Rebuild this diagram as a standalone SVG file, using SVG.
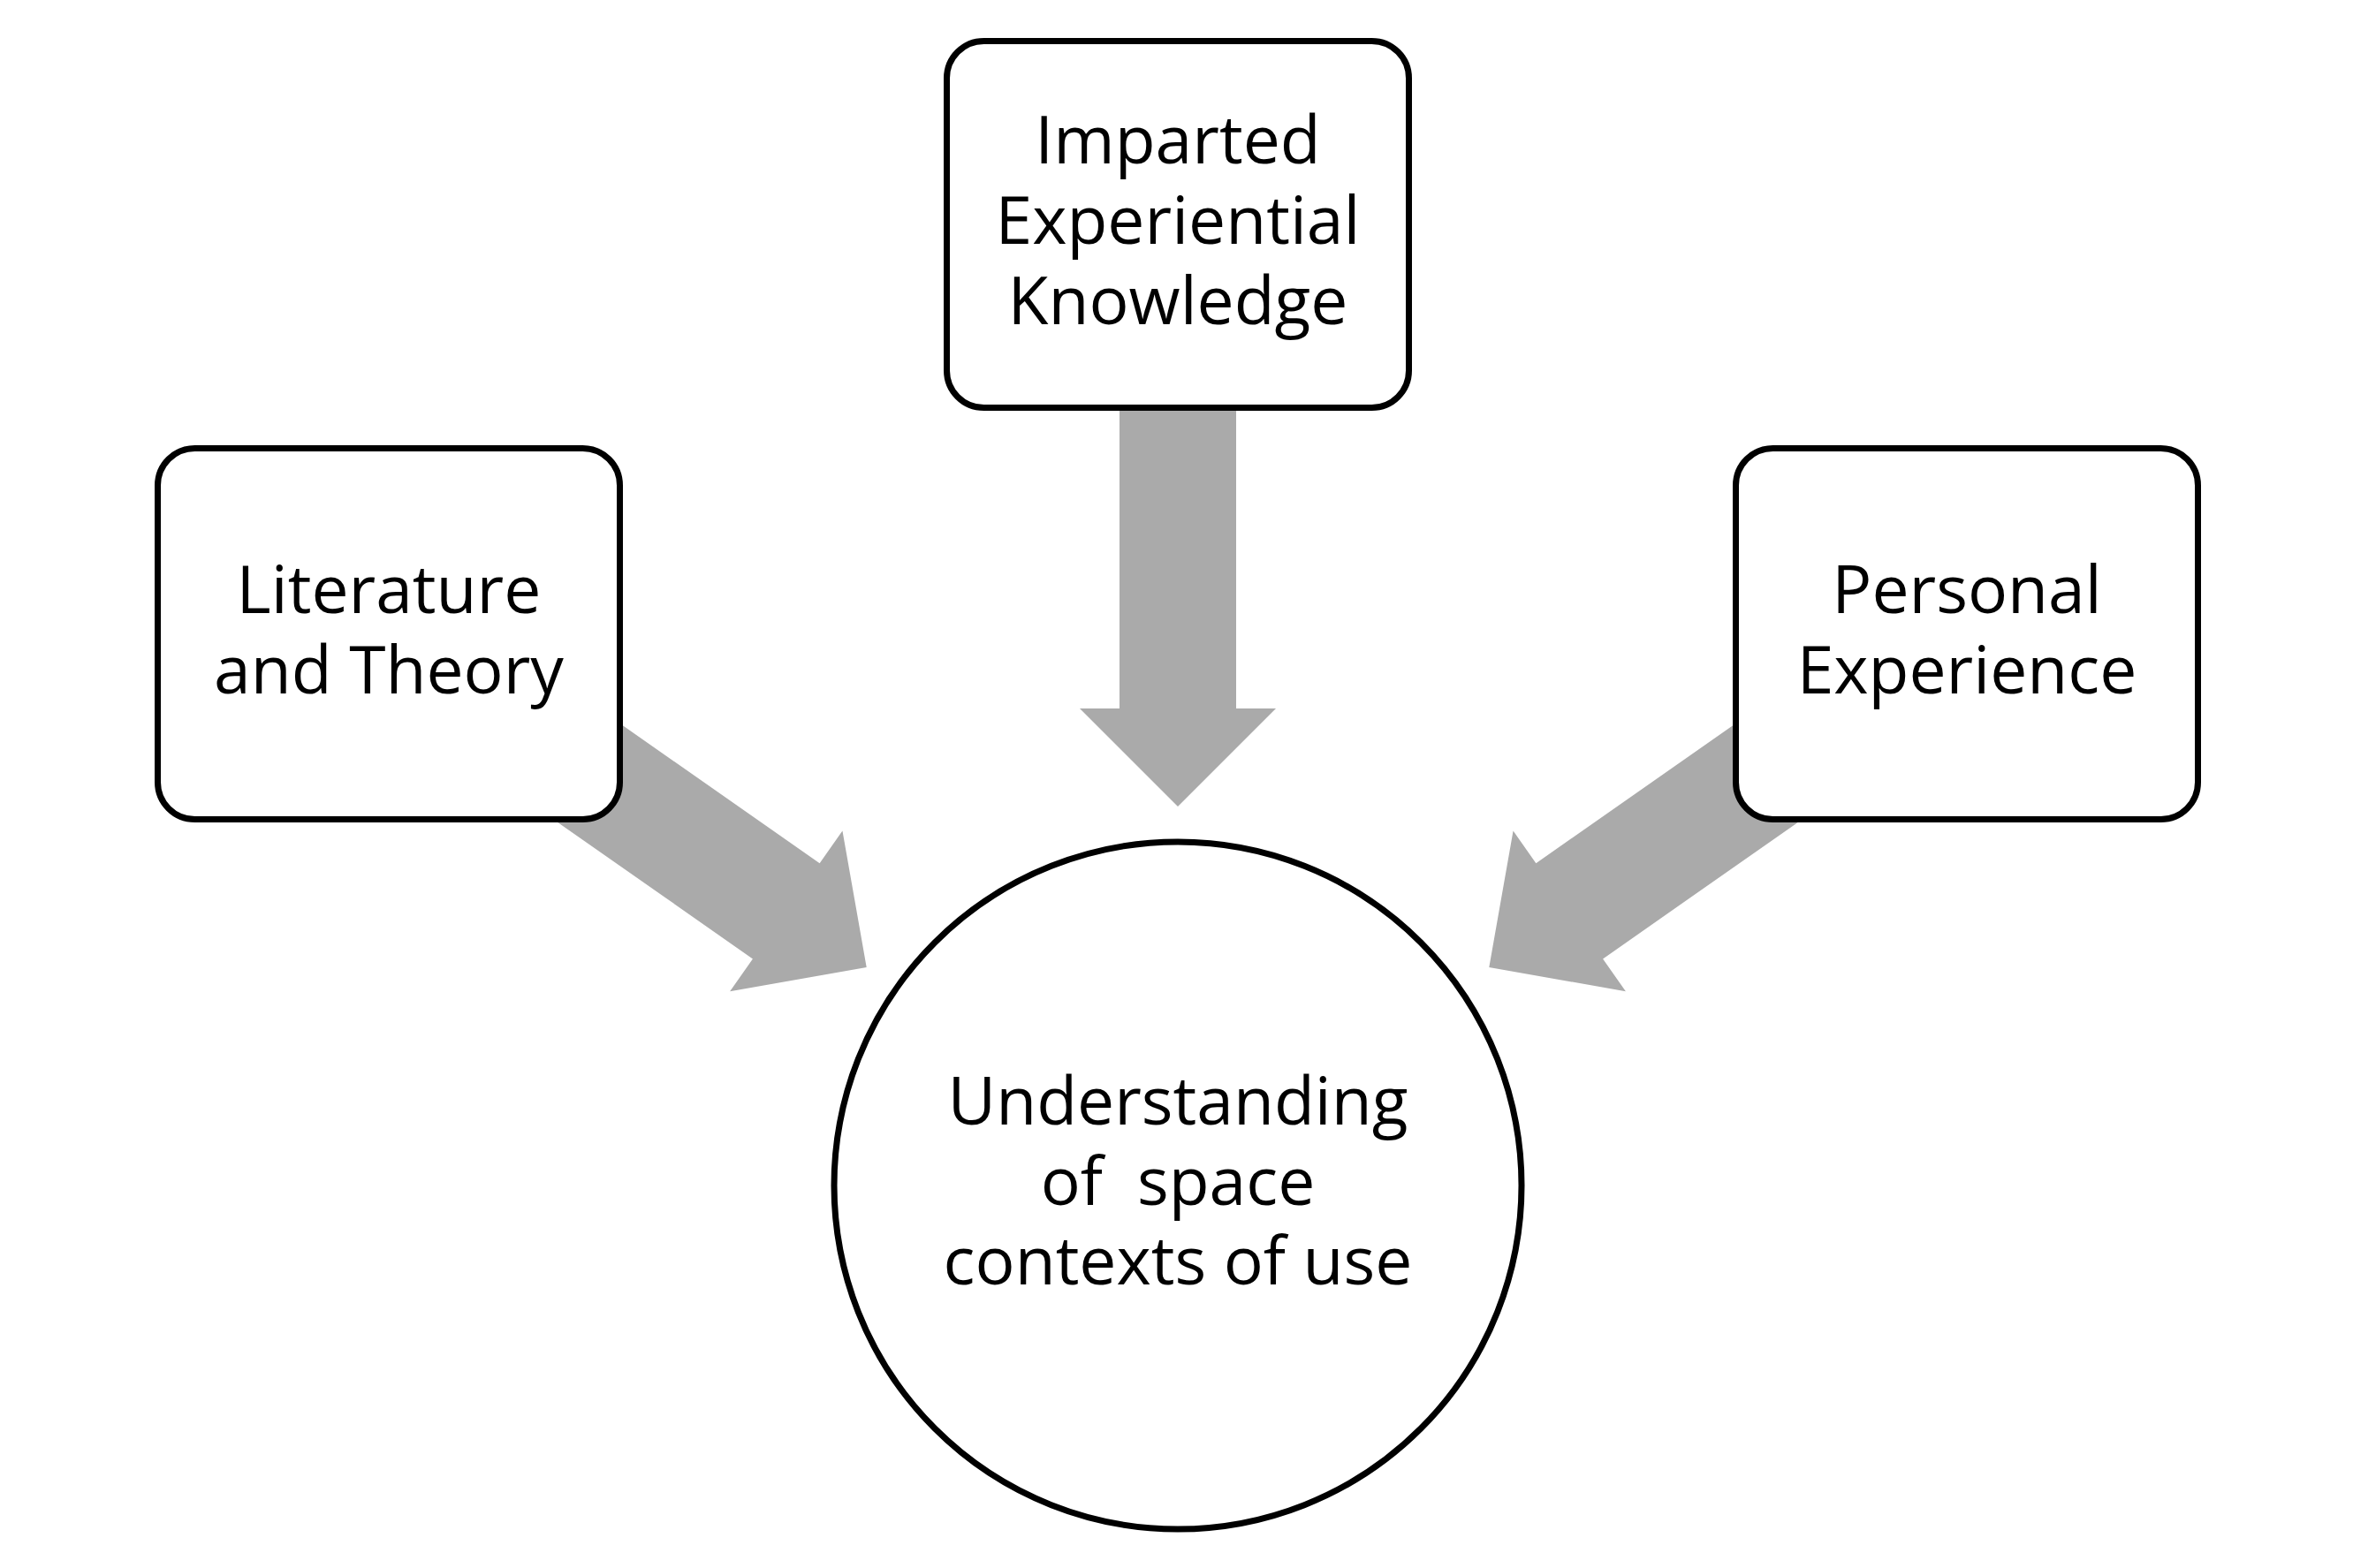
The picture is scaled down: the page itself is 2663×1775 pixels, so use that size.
<svg xmlns="http://www.w3.org/2000/svg" xmlns:xlink="http://www.w3.org/1999/xlink" width="2663" height="1775" viewBox="0 0 2663 1775">
  <style>
    .node { fill: #FFFFFF; stroke: #000000; stroke-width: 7; }
    .label { font-family: "Open Sans", "Noto Sans", "Liberation Sans", sans-serif; font-size: 75px; fill: #000000; text-anchor: middle; }
    .arrow { fill: #AAAAAA; stroke: none; }
  </style>
  <defs>
    <polygon id="blockArrow" class="arrow" points="0,0 -111,-111 -111,-66 -400,-66 -400,66 -111,66 -111,111"/>
    <polygon id="blockArrowLong" class="arrow" points="0,0 -111,-111 -111,-66 -513,-66 -513,66 -111,66 -111,111"/>
  </defs>
  <rect x="0" y="0" width="2663" height="1775" fill="#FFFFFF"/>

  <g id="connectors">
    <use xlink:href="#blockArrowLong" href="#blockArrowLong" transform="translate(1333,913) rotate(90)"/>
    <use xlink:href="#blockArrow" href="#blockArrow" transform="translate(980.7,1095) rotate(35)"/>
    <use xlink:href="#blockArrow" href="#blockArrow" transform="translate(1685.3,1095) rotate(145)"/>
  </g>

  <g id="node-imparted">
    <rect class="node" x="1071.5" y="46.5" width="523" height="415" rx="42" ry="42"/>
    <text class="label" x="1333" y="185"><tspan x="1333" y="185">Imparted</tspan><tspan x="1333" y="276">Experiential</tspan><tspan x="1333" y="367">Knowledge</tspan></text>
  </g>

  <g id="node-literature">
    <rect class="node" x="178.5" y="507.5" width="523" height="420" rx="42" ry="42"/>
    <text class="label" x="440" y="694"><tspan x="440" y="694">Literature</tspan><tspan x="440" y="785">and Theory</tspan></text>
  </g>

  <g id="node-personal">
    <rect class="node" x="1964.5" y="507.5" width="523" height="420" rx="42" ry="42"/>
    <text class="label" x="2226" y="694"><tspan x="2226" y="694">Personal</tspan><tspan x="2226" y="785">Experience</tspan></text>
  </g>

  <g id="node-understanding">
    <circle class="node" cx="1333" cy="1342" r="389"/>
    <text class="label" x="1333" y="1273" xml:space="preserve"><tspan x="1333" y="1273">Understanding</tspan><tspan x="1333" y="1364">of  space</tspan><tspan x="1333" y="1454">contexts of use</tspan></text>
  </g>
</svg>
